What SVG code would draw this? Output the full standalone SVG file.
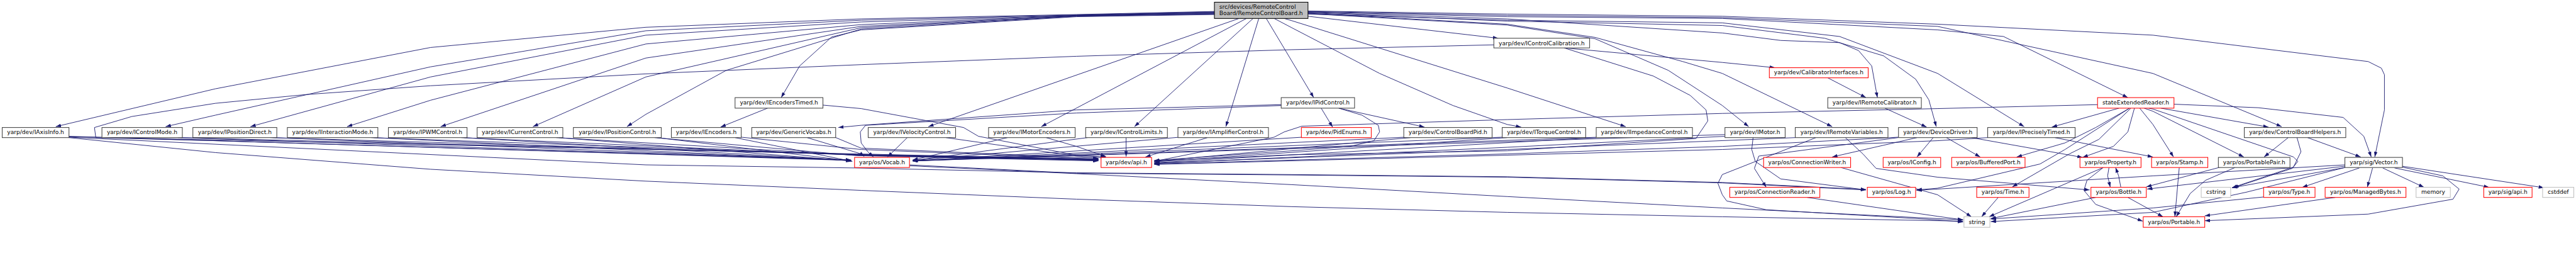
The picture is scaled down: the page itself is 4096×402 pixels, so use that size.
<svg xmlns="http://www.w3.org/2000/svg" width="4096" height="402" viewBox="0 0 4096 402">
<style>
.e{fill:none;stroke:#191970;stroke-width:1.3;stroke-linejoin:round;marker-end:url(#a)}
.n rect{fill:#fff;stroke:#404040;stroke-width:1.5}
.r rect{fill:#fff;stroke:#ff0000;stroke-width:1.5}
.g rect{fill:#fff;stroke:#bfbfbf;stroke-width:1.5}
text{font-family:"DejaVu Sans","Liberation Sans",sans-serif;font-size:13px;fill:#000;text-anchor:middle}
</style>
<defs>
<marker id="a" markerUnits="userSpaceOnUse" markerWidth="12" markerHeight="8" refX="12" refY="4" orient="auto" viewBox="0 0 12 8"><path d="M0,0L12,4L0,8z" fill="#191970"/></marker>
</defs>
<rect width="4096" height="402" fill="#fff"/>
<g transform="scale(0.69862)">
<g id="edges">
<path class="e" d="M2764,26L2450,33L1960,43L1470,62L980,108L490,202L127,288"/>
<path class="e" d="M2764,27L2450,34L1960,46L1470,70L980,152L490,262L377,288"/>
<path class="e" d="M2764,28L2450,35L1960,50L1470,80L980,175L570,288"/>
<path class="e" d="M2764,29L2450,35L1960,56L1470,100L980,228L790,288"/>
<path class="e" d="M2764,30L2450,36L1960,60L1470,132L1003,288"/>
<path class="e" d="M2764,31L2450,36L1960,63L1470,175L1213,288"/>
<path class="e" d="M2764,32L2450,37L1960,66L1653,160L1470,260L1427,288"/>
<path class="e" d="M2764,33L2450,38L1960,68L1893,84L1820,150L1778,222"/>
<path class="e" d="M2820,42L2113,288"/>
<path class="e" d="M2837,42L2370,288"/>
<path class="e" d="M2852,42L2582,288"/>
<path class="e" d="M2865,42L2790,288"/>
<path class="e" d="M2882,42L2990,222"/>
<path class="e" d="M2900,42L2940,63L3140,167L3307,240L3430,283L3462,289"/>
<path class="e" d="M2923,42L2940,47L3430,200L3700,288"/>
<path class="e" d="M2977,37L3410,87"/>
<path class="e" d="M2977,28L3430,43L3920,75L4053,92L4187,97L4230,115L4260,150L4273,222"/>
<path class="e" d="M2977,29L3430,48L3920,58L4153,87L4287,127L4360,180L4390,227L4407,288"/>
<path class="e" d="M2977,30L3430,55L3630,85L3830,140L3920,167L4170,288"/>
<path class="e" d="M2977,31L3430,57L3630,88L3797,160L3920,240L3980,288"/>
<path class="e" d="M2977,32L3430,46L3920,52L4187,83L4410,167L4607,288"/>
<path class="e" d="M2977,27L3430,38L3920,42L4410,68L4560,83L4843,222"/>
<path class="e" d="M2977,26L3430,35L3920,40L4410,60L4900,167L5193,288"/>
<path class="e" d="M2977,25L3430,32L3920,37L4410,55L4900,80L5390,140L5420,155L5427,170L5427,250L5405,357"/>
<path class="e" d="M3560,109L3920,142L4040,154"/>
<path class="e" d="M3560,109L3763,173L3847,217L3883,250L3887,275L3860,315L3430,343L2940,352L2627,366"/>
<path class="e" d="M3400,102L2940,113L2450,128L1960,147L1470,168L980,195L697,215L490,235L300,265L215,290L218,313L490,320L1937,365"/>
<path class="e" d="M4160,177L4247,222"/>
<path class="e" d="M4290,246L4385,289"/>
<path class="e" d="M1747,246L1640,289"/>
<path class="e" d="M1873,239L1960,247L2193,290L2227,310L2450,353L2517,357"/>
<path class="e" d="M3007,246L3033,289"/>
<path class="e" d="M3047,246L3242,289"/>
<path class="e" d="M3047,246L3100,262L3137,285L3140,300L3127,320L3073,333L2940,343L2627,365"/>
<path class="e" d="M2916,238L2450,250L1960,285L1908,290"/>
<path class="e" d="M2916,240L2450,257L1970,285L1958,300L1960,325L1975,345L1988,357"/>
<path class="e" d="M4823,246L4670,289"/>
<path class="e" d="M4847,246L4770,290L4700,325L4590,357"/>
<path class="e" d="M4850,246L4777,317L4710,350L4580,425"/>
<path class="e" d="M4858,246L4843,300L4810,333L4740,358"/>
<path class="e" d="M4870,246L4900,283L4947,357"/>
<path class="e" d="M4880,246L4900,253L5107,357"/>
<path class="e" d="M4918,246L5163,289"/>
<path class="e" d="M4890,246L4900,248L5220,357L5230,367L5217,383L5083,427"/>
<path class="e" d="M4948,237L5140,245L5333,267L5380,310L5397,357"/>
<path class="e" d="M4847,246L4700,340L4643,373L4410,428L4362,432"/>
<path class="e" d="M4774,238L4410,247L3920,258L3430,272L2963,287L2923,300L2900,312L2627,367"/>
<path class="e" d="M4400,313L4363,357"/>
<path class="e" d="M4363,313L4170,357"/>
<path class="e" d="M4320,313L4003,355L3993,383L4020,426"/>
<path class="e" d="M4430,313L4507,357"/>
<path class="e" d="M4487,313L4740,358"/>
<path class="e" d="M4321,312L3920,333L3430,350L2627,373"/>
<path class="e" d="M4677,313L4900,357"/>
<path class="e" d="M4524,313L4410,320L3920,340L2627,374"/>
<path class="e" d="M3990,313L3987,340L3995,367L4053,407L4247,432"/>
<path class="e" d="M3926,310L3430,335L2627,372"/>
<path class="e" d="M3928,306L2077,366"/>
<path class="e" d="M4086,313L3430,340L2627,371"/>
<path class="e" d="M4200,313L4240,350L4270,383L4410,403L4756,432"/>
<path class="e" d="M4133,313L3920,397L3910,417L3920,443L3930,457L4020,477L4410,500L4468,505"/>
<path class="e" d="M3633,313L2627,370"/>
<path class="e" d="M3640,312L2077,366"/>
<path class="e" d="M3420,312L2077,366"/>
<path class="e" d="M3430,313L2627,368"/>
<path class="e" d="M3198,312L2077,366"/>
<path class="e" d="M3210,313L2627,367"/>
<path class="e" d="M2965,312L2077,366"/>
<path class="e" d="M2685,312L2077,365"/>
<path class="e" d="M2748,313L2607,357"/>
<path class="e" d="M2475,313L2077,365"/>
<path class="e" d="M2563,313L2563,356"/>
<path class="e" d="M2293,313L2077,364"/>
<path class="e" d="M2381,313L2450,333L2517,356"/>
<path class="e" d="M2065,313L2020,357"/>
<path class="e" d="M2153,313L2450,355L2517,359"/>
<path class="e" d="M157,310L1937,364"/>
<path class="e" d="M157,311L1950,350L2500,362"/>
<path class="e" d="M157,312L1470,375L1947,382L2450,393L2940,397L3430,402L3920,415L4247,431"/>
<path class="e" d="M157,313L490,347L980,385L1470,412L1960,433L2450,453L2940,470L3430,483L3920,493L4468,503"/>
<path class="e" d="M410,313L1937,364"/>
<path class="e" d="M405,313L1950,351L2500,363"/>
<path class="e" d="M620,313L1937,364"/>
<path class="e" d="M615,313L1950,352L2500,363"/>
<path class="e" d="M850,313L1937,365"/>
<path class="e" d="M845,313L1950,352L2500,364"/>
<path class="e" d="M1055,313L1937,365"/>
<path class="e" d="M1050,313L1950,353L2500,364"/>
<path class="e" d="M1272,313L1937,366"/>
<path class="e" d="M1266,313L1950,353L2500,365"/>
<path class="e" d="M1495,313L1937,366"/>
<path class="e" d="M1490,313L1950,354L2500,366"/>
<path class="e" d="M1673,313L1940,367"/>
<path class="e" d="M1687,312L1960,340L2500,362"/>
<path class="e" d="M1837,313L1960,350L1967,356"/>
<path class="e" d="M1900,312L1960,337L2500,360"/>
<path class="e" d="M2070,375L2450,394L2940,398L3430,403L3920,416L4247,432"/>
<path class="e" d="M2070,377L2450,395L2940,420L3430,447L3920,473L4468,500"/>
<path class="e" d="M4190,381L4410,443L4487,493"/>
<path class="e" d="M4113,449L4410,492L4468,500"/>
<path class="e" d="M4548,449L4510,493"/>
<path class="e" d="M4787,381L4527,493"/>
<path class="e" d="M4770,449L4531,497"/>
<path class="e" d="M4800,381L4797,400L4803,426"/>
<path class="e" d="M4827,426L4822,400L4815,381"/>
<path class="e" d="M4787,381L4750,410L4743,433L4770,465L4877,503"/>
<path class="e" d="M4843,449L4923,493"/>
<path class="e" d="M4960,381L4950,493"/>
<path class="e" d="M5087,381L5020,410L4985,440L4953,493"/>
<path class="e" d="M5073,375L4885,425"/>
<path class="e" d="M5208,313L5153,357"/>
<path class="e" d="M5252,313L5373,357"/>
<path class="e" d="M5228,313L5237,345L5220,380L5080,427"/>
<path class="e" d="M5337,378L4887,430"/>
<path class="e" d="M5337,375L4900,400L4410,430L4362,433"/>
<path class="e" d="M5337,381L5113,437L4900,483L4531,504"/>
<path class="e" d="M5370,382L5240,426"/>
<path class="e" d="M5400,382L5388,426"/>
<path class="e" d="M5423,382L5517,426"/>
<path class="e" d="M5450,382L5665,426"/>
<path class="e" d="M5467,378L5790,427"/>
<path class="e" d="M5467,380L5560,400L5597,430L5583,453L5390,487L5018,502"/>
<path class="e" d="M5337,381L5080,427"/>
<path class="e" d="M5152,448L4900,473L4531,498"/>
<path class="e" d="M5315,449L5018,491"/>
</g>
<g id="root"><rect x="2764" y="5" width="213" height="37" fill="#bfbfbf" stroke="#000" stroke-width="1.5"/><text x="2775" y="20" style="text-anchor:start">src/devices/RemoteControl</text><text x="2775" y="34" style="text-anchor:start">Board/RemoteControlBoard.h</text></g>
<g id="n_IAxisInfo" class="n"><rect x="5" y="290" width="152" height="23"/><text x="81" y="305.5">yarp/dev/IAxisInfo.h</text></g>
<g id="n_IControlMode" class="n"><rect x="232" y="290" width="183" height="23"/><text x="323.5" y="305.5">yarp/dev/IControlMode.h</text></g>
<g id="n_IPositionDirect" class="n"><rect x="439" y="290" width="191" height="23"/><text x="534.5" y="305.5">yarp/dev/IPositionDirect.h</text></g>
<g id="n_IInteractionMode" class="n"><rect x="654" y="290" width="206" height="23"/><text x="757" y="305.5">yarp/dev/IInteractionMode.h</text></g>
<g id="n_IPWMControl" class="n"><rect x="884" y="290" width="179" height="23"/><text x="973.5" y="305.5">yarp/dev/IPWMControl.h</text></g>
<g id="n_ICurrentControl" class="n"><rect x="1086" y="290" width="195" height="23"/><text x="1183.5" y="305.5">yarp/dev/ICurrentControl.h</text></g>
<g id="n_IPositionControl" class="n"><rect x="1305" y="290" width="200" height="23"/><text x="1405" y="305.5">yarp/dev/IPositionControl.h</text></g>
<g id="n_IEncoders" class="n"><rect x="1528" y="290" width="159" height="23"/><text x="1607.5" y="305.5">yarp/dev/IEncoders.h</text></g>
<g id="n_GenericVocabs" class="n"><rect x="1711" y="290" width="191" height="23"/><text x="1806.5" y="305.5">yarp/dev/GenericVocabs.h</text></g>
<g id="n_IVelocityControl" class="n"><rect x="1976" y="290" width="199" height="23"/><text x="2075.5" y="305.5">yarp/dev/IVelocityControl.h</text></g>
<g id="n_IMotorEncoders" class="n"><rect x="2250" y="290" width="197" height="23"/><text x="2348.5" y="305.5">yarp/dev/IMotorEncoders.h</text></g>
<g id="n_IControlLimits" class="n"><rect x="2471" y="290" width="186" height="23"/><text x="2564" y="305.5">yarp/dev/IControlLimits.h</text></g>
<g id="n_IAmplifierControl" class="n"><rect x="2681" y="290" width="206" height="23"/><text x="2784" y="305.5">yarp/dev/IAmplifierControl.h</text></g>
<g id="n_PidEnums" class="r"><rect x="2962" y="290" width="159" height="23"/><text x="3041.5" y="305.5">yarp/dev/PidEnums.h</text></g>
<g id="n_ControlBoardPid" class="n"><rect x="3195" y="290" width="201" height="23"/><text x="3295.5" y="305.5">yarp/dev/ControlBoardPid.h</text></g>
<g id="n_ITorqueControl" class="n"><rect x="3419" y="290" width="190" height="23"/><text x="3514" y="305.5">yarp/dev/ITorqueControl.h</text></g>
<g id="n_IImpedanceControl" class="n"><rect x="3633" y="290" width="219" height="23"/><text x="3742.5" y="305.5">yarp/dev/IImpedanceControl.h</text></g>
<g id="n_IMotor" class="n"><rect x="3926" y="290" width="137" height="23"/><text x="3994.5" y="305.5">yarp/dev/IMotor.h</text></g>
<g id="n_IRemoteVariables" class="n"><rect x="4086" y="290" width="211" height="23"/><text x="4191.5" y="305.5">yarp/dev/IRemoteVariables.h</text></g>
<g id="n_DeviceDriver" class="n"><rect x="4321" y="290" width="179" height="23"/><text x="4410.5" y="305.5">yarp/dev/DeviceDriver.h</text></g>
<g id="n_IPreciselyTimed" class="n"><rect x="4524" y="290" width="199" height="23"/><text x="4623.5" y="305.5">yarp/dev/IPreciselyTimed.h</text></g>
<g id="n_ControlBoardHelpers" class="n"><rect x="5108" y="290" width="231" height="23"/><text x="5223.5" y="305.5">yarp/dev/ControlBoardHelpers.h</text></g>
<g id="n_IEncodersTimed" class="n"><rect x="1673" y="222" width="200" height="24"/><text x="1773" y="238">yarp/dev/IEncodersTimed.h</text></g>
<g id="n_IPidControl" class="n"><rect x="2916" y="222" width="167" height="24"/><text x="2999.5" y="238">yarp/dev/IPidControl.h</text></g>
<g id="n_IRemoteCalibrator" class="n"><rect x="4160" y="222" width="213" height="24"/><text x="4266.5" y="238">yarp/dev/IRemoteCalibrator.h</text></g>
<g id="n_stateExtendedReader" class="r"><rect x="4774" y="222" width="174" height="24"/><text x="4861" y="238">stateExtendedReader.h</text></g>
<g id="n_IControlCalibration" class="n"><rect x="3400" y="87" width="218" height="22"/><text x="3509" y="102.5">yarp/dev/IControlCalibration.h</text></g>
<g id="n_CalibratorInterfaces" class="r"><rect x="4027" y="154" width="225" height="23"/><text x="4139.5" y="169.5">yarp/dev/CalibratorInterfaces.h</text></g>
<g id="n_Vocab" class="r"><rect x="1945" y="358" width="125" height="23"/><text x="2007.5" y="373.5">yarp/os/Vocab.h</text></g>
<g id="n_devapi" class="r"><rect x="2506" y="358" width="115" height="23"/><text x="2563.5" y="373.5">yarp/dev/api.h</text></g>
<g id="n_ConnectionWriter" class="r"><rect x="4014" y="358" width="198" height="23"/><text x="4113" y="373.5">yarp/os/ConnectionWriter.h</text></g>
<g id="n_IConfig" class="r"><rect x="4286" y="358" width="131" height="23"/><text x="4351.5" y="373.5">yarp/os/IConfig.h</text></g>
<g id="n_BufferedPort" class="r"><rect x="4442" y="358" width="167" height="23"/><text x="4525.5" y="373.5">yarp/os/BufferedPort.h</text></g>
<g id="n_Property" class="r"><rect x="4734" y="358" width="139" height="23"/><text x="4803.5" y="373.5">yarp/os/Property.h</text></g>
<g id="n_Stamp" class="r"><rect x="4897" y="358" width="128" height="23"/><text x="4961" y="373.5">yarp/os/Stamp.h</text></g>
<g id="n_PortablePair" class="n"><rect x="5049" y="358" width="163" height="23"/><text x="5130.5" y="373.5">yarp/os/PortablePair.h</text></g>
<g id="n_Vector" class="n"><rect x="5337" y="358" width="131" height="23"/><text x="5402.5" y="373.5">yarp/sig/Vector.h</text></g>
<g id="n_ConnectionReader" class="r"><rect x="3937" y="426" width="205" height="23"/><text x="4039.5" y="441.5">yarp/os/ConnectionReader.h</text></g>
<g id="n_Log" class="r"><rect x="4250" y="426" width="110" height="23"/><text x="4305" y="441.5">yarp/os/Log.h</text></g>
<g id="n_Time" class="r"><rect x="4499" y="426" width="119" height="23"/><text x="4558.5" y="441.5">yarp/os/Time.h</text></g>
<g id="n_Bottle" class="r"><rect x="4759" y="426" width="126" height="23"/><text x="4822" y="441.5">yarp/os/Bottle.h</text></g>
<g id="n_cstring" class="g"><rect x="5010" y="426" width="67" height="23"/><text x="5043.5" y="441.5">cstring</text></g>
<g id="n_Type" class="r"><rect x="5152" y="426" width="117" height="23"/><text x="5210.5" y="441.5">yarp/os/Type.h</text></g>
<g id="n_ManagedBytes" class="r"><rect x="5292" y="426" width="184" height="23"/><text x="5384" y="441.5">yarp/os/ManagedBytes.h</text></g>
<g id="n_memory" class="g"><rect x="5499" y="426" width="78" height="23"/><text x="5538" y="441.5">memory</text></g>
<g id="n_sigapi" class="r"><rect x="5653" y="426" width="110" height="23"/><text x="5708" y="441.5">yarp/sig/api.h</text></g>
<g id="n_cstddef" class="g"><rect x="5787" y="426" width="71" height="23"/><text x="5822.5" y="441.5">cstddef</text></g>
<g id="n_string" class="g"><rect x="4470" y="493" width="59" height="24"/><text x="4499.5" y="509">string</text></g>
<g id="n_Portable" class="r"><rect x="4878" y="493" width="140" height="24"/><text x="4948" y="509">yarp/os/Portable.h</text></g>
</g>
</svg>
